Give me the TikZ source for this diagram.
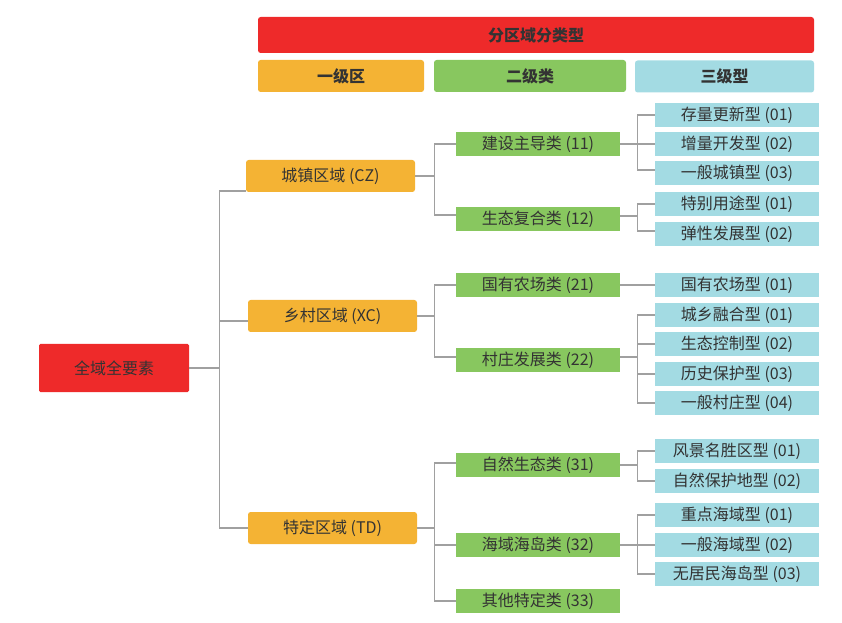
\documentclass[tikz,border=0pt]{standalone}
\usepackage{fontspec}
\setmainfont{Noto Sans CJK SC}
\definecolor{rosso}{HTML}{EE2A2A}
\definecolor{arancio}{HTML}{F4B334}
\definecolor{verde}{HTML}{88C75F}
\definecolor{ciano}{HTML}{A3DBE3}
\definecolor{testo}{HTML}{333333}
\definecolor{linea}{HTML}{A0A0A0}
\begin{document}
\begin{tikzpicture}[x=0.75pt,y=-0.75pt]
    % Stili per i nodi
    \tikzstyle{base}=[rectangle, inner sep=0pt, text=testo, font=\fontsize{12pt}{14pt}\selectfont]
    \tikzstyle{header}=[base, rounded corners=2pt, minimum height=24pt, font=\fontsize{12pt}{14pt}\selectfont\bfseries]
    \tikzstyle{mainnode}=[base, fill=rosso, minimum width=112.5pt, minimum height=36pt, rounded corners=1pt]
    \tikzstyle{zone}=[base, fill=arancio, minimum width=126.75pt, minimum height=24pt, rounded corners=2pt]
    \tikzstyle{category}=[base, fill=verde, minimum width=123pt, minimum height=18pt]
    \tikzstyle{subtype}=[base, fill=ciano, minimum width=123pt, minimum height=18pt]
    \tikzstyle{link}=[draw=linea, line width=1.1pt]

    \useasboundingbox (0,0) rectangle (842,623);

    % Intestazione
    \node[header, fill=rosso, minimum width=417pt, minimum height=27pt] (title) at (536,35) {分区域分类型};
    \node[header, fill=arancio, minimum width=124.5pt] (head1) at (341,76) {一级区};
    \node[header, fill=verde, minimum width=144pt] (head2) at (530,76) {二级类};
    \node[header, fill=ciano, minimum width=134.25pt] (head3) at (724.5,76.5) {三级型};

    % Radice
    \node[mainnode] (root) at (114,368) {全域全要素};

    % Zone (primo livello)
    \node[zone] (cz) at (330.5,176) {城镇区域 (CZ)};
    \node[zone] (xc) at (332.5,316) {乡村区域 (XC)};
    \node[zone] (td) at (332.5,528) {特定区域 (TD)};

    % Classi (secondo livello)
    \node[category] (c11) at (538,144) {建设主导类 (11)};
    \node[category] (c12) at (538,219) {生态复合类 (12)};
    \node[category] (c21) at (538,285) {国有农场类 (21)};
    \node[category] (c22) at (538,360) {村庄发展类 (22)};
    \node[category] (c31) at (538,465) {自然生态类 (31)};
    \node[category] (c32) at (538,545) {海域海岛类 (32)};
    \node[category] (c33) at (538,601) {其他特定类 (33)};

    % Tipi (terzo livello)
    \node[subtype] (t111) at (737,115) {存量更新型 (01)};
    \node[subtype] (t112) at (737,144) {增量开发型 (02)};
    \node[subtype] (t113) at (737,173) {一般城镇型 (03)};
    \node[subtype] (t121) at (737,204) {特别用途型 (01)};
    \node[subtype] (t122) at (737,234) {弹性发展型 (02)};
    \node[subtype] (t211) at (737,285) {国有农场型 (01)};
    \node[subtype] (t221) at (737,315) {城乡融合型 (01)};
    \node[subtype] (t222) at (737,344) {生态控制型 (02)};
    \node[subtype] (t223) at (737,374) {历史保护型 (03)};
    \node[subtype] (t224) at (737,403) {一般村庄型 (04)};
    \node[subtype] (t311) at (737,451) {风景名胜区型 (01)};
    \node[subtype] (t312) at (737,481) {自然保护地型 (02)};
    \node[subtype] (t321) at (737,515) {重点海域型 (01)};
    \node[subtype] (t322) at (737,545) {一般海域型 (02)};
    \node[subtype] (t323) at (737,574) {无居民海岛型 (03)};

    % Rami dalla radice alle zone
    \draw[link] (root.east) -- ++(30,0) |- ([yshift=-11.25pt]cz.west);
    \draw[link] (root.east) -- ++(30,0) |- ([yshift=-3.75pt]xc.west);
    \draw[link] (root.east) -- ++(30,0) |- (td.west);

    % Rami dalle zone alle classi
    \draw[link] (cz.east) -- ++(19,0) |- (c11.west);
    \draw[link] (cz.east) -- ++(19,0) |- ([yshift=3pt]c12.west);
    \draw[link] (xc.east) -- ++(17,0) |- (c21.west);
    \draw[link] (xc.east) -- ++(17,0) |- ([yshift=2.25pt]c22.west);
    \draw[link] (td.east) -- ++(17,0) |- ([yshift=1.5pt]c31.west);
    \draw[link] (td.east) -- ++(17,0) |- (c32.west);
    \draw[link] (td.east) -- ++(17,0) |- (c33.west);

    % Rami dalle classi ai tipi
    \draw[link] (c11.east) -- ++(17,0) |- (t111.west);
    \draw[link] (c11.east) -- ++(17,0) |- (t112.west);
    \draw[link] (c11.east) -- ++(17,0) |- ([yshift=2.25pt]t113.west);
    \draw[link] ([yshift=2.25pt]c12.east) -- ++(17,0) |- (t121.west);
    \draw[link] ([yshift=2.25pt]c12.east) -- ++(17,0) |- ([yshift=2.25pt]t122.west);
    \draw[link] (c21) -- (t211);
    \draw[link] ([yshift=2.25pt]c22.east) -- ++(17,0) |- (t221.west);
    \draw[link] ([yshift=2.25pt]c22.east) -- ++(17,0) |- (t222.west);
    \draw[link] ([yshift=2.25pt]c22.east) -- ++(17,0) |- (t223.west);
    \draw[link] ([yshift=2.25pt]c22.east) -- ++(17,0) |- (t224.west);
    \draw[link] (c31.east) -- ++(17,0) |- (t311.west);
    \draw[link] (c31.east) -- ++(17,0) |- (t312.west);
    \draw[link] (c32.east) -- ++(17,0) |- (t321.west);
    \draw[link] (c32.east) -- ++(17,0) |- (t322.west);
    \draw[link] (c32.east) -- ++(17,0) |- (t323.west);
\end{tikzpicture}
\end{document}
